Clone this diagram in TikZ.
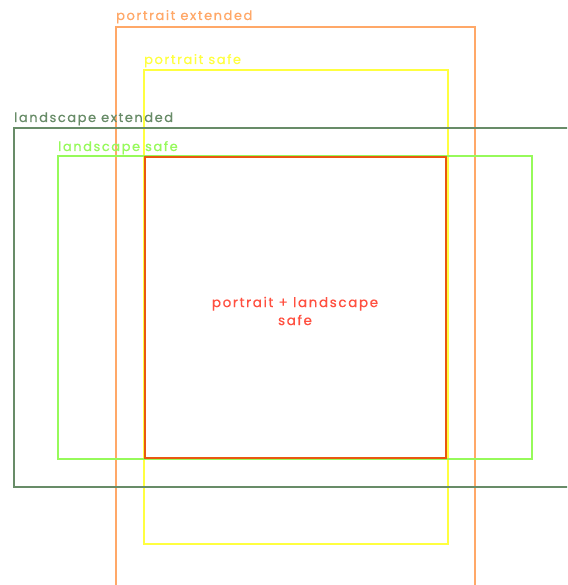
\documentclass[tikz,border=0pt]{standalone}
\usepackage{fontspec}
\setmainfont{Poppins}[LetterSpace=12,FakeBold=0.6]
\definecolor{pext}{RGB}{255,168,104}
\definecolor{psafe}{RGB}{255,255,64}
\definecolor{lext}{RGB}{104,140,104}
\definecolor{lsafe}{RGB}{150,250,90}
\definecolor{both}{RGB}{232,88,16}
\definecolor{bothtxt}{RGB}{255,80,64}
\tikzset{
  frame/.style={line width=1.3pt},
  lbl/.style={anchor=base west, inner sep=0pt, font=\fontsize{13}{15}\selectfont},
}
\begin{document}
\begin{tikzpicture}[x=1pt,y=-1pt]
\useasboundingbox (0,0) rectangle (567,585);
\fill[white] (0,0) rectangle (567,585);
\begin{scope}
\clip (0,0) rectangle (567,585);
\draw[frame, pext] (116,27) rectangle (475,600);
\draw[frame, psafe] (144,70) rectangle (448,544);
\draw[frame, lext] (14,128) rectangle (580,487);
\draw[frame, lsafe] (58,156) rectangle (532,459);
\draw[line width=2pt, both] (145,157) rectangle (446,458);
\end{scope}
\node[lbl, text=pext] (tpe) at (116,20) {portrait extended};
\node[lbl, text=psafe] (tps) at (144,64) {portrait safe};
\node[lbl, text=lext] (tle) at (14,122) {landscape extended};
\node[lbl, text=lsafe] (tls) at (58,151) {landscape safe};
\node[text=bothtxt, align=center, inner sep=0pt, font=\fontsize{13.5}{18}\selectfont] (tb) at (295,311) {portrait + landscape\\safe};
\end{tikzpicture}
\end{document}
